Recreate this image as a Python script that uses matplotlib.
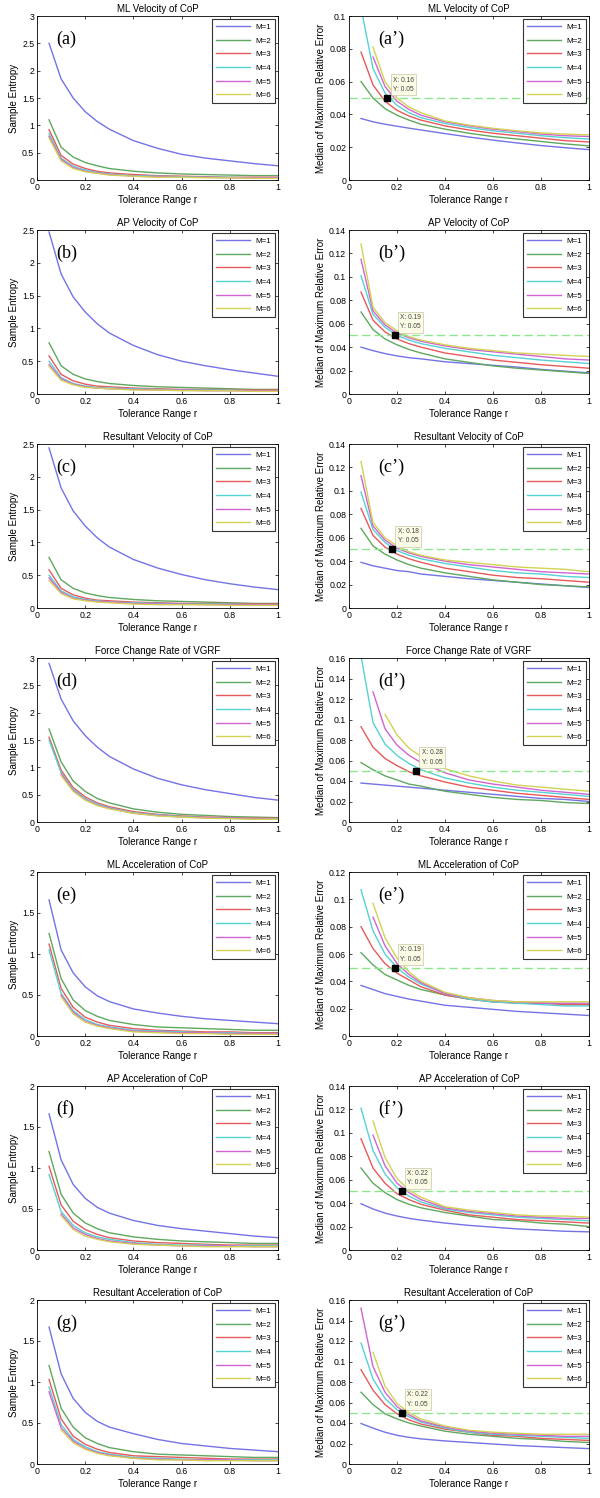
import numpy as np
import matplotlib
matplotlib.use('Agg')
import matplotlib.pyplot as plt
from matplotlib.ticker import FormatStrFormatter

plt.rcParams['font.family'] = ['Liberation Sans', 'DejaVu Sans']
plt.rcParams['xtick.direction'] = 'in'
plt.rcParams['ytick.direction'] = 'in'

nan = np.nan
r = [0.05, 0.1, 0.15, 0.2, 0.25, 0.3, 0.4, 0.5, 0.6, 0.7, 0.8, 0.9, 1.0]
labels = ['M=1', 'M=2', 'M=3', 'M=4', 'M=5', 'M=6']
titles = ['ML Velocity of CoP', 'AP Velocity of CoP', 'Resultant Velocity of CoP',
          'Force Change Rate of VGRF', 'ML Acceleration of CoP',
          'AP Acceleration of CoP', 'Resultant Acceleration of CoP']
letters = ['a', 'b', 'c', 'd', 'e', 'f', 'g']

# sample entropy, one row per M
se_ml_vel = [
    [2.50, 1.85, 1.50, 1.25, 1.07, 0.93, 0.72, 0.58, 0.47, 0.40, 0.35, 0.30, 0.26],
    [1.10, 0.60, 0.42, 0.32, 0.26, 0.21, 0.16, 0.13, 0.11, 0.10, 0.09, 0.08, 0.08],
    [0.92, 0.45, 0.29, 0.21, 0.16, 0.13, 0.10, 0.08, 0.07, 0.06, 0.05, 0.05, 0.05],
    [0.85, 0.40, 0.25, 0.18, 0.14, 0.11, 0.08, 0.07, 0.06, 0.05, 0.05, 0.04, 0.04],
    [0.80, 0.38, 0.23, 0.16, 0.13, 0.10, 0.07, 0.06, 0.05, 0.05, 0.04, 0.04, 0.04],
    [0.77, 0.35, 0.21, 0.15, 0.12, 0.09, 0.07, 0.05, 0.05, 0.04, 0.04, 0.03, 0.03]]
se_ap_vel = [
    [2.47, 1.83, 1.48, 1.25, 1.07, 0.93, 0.74, 0.60, 0.50, 0.43, 0.37, 0.32, 0.27],
    [0.78, 0.43, 0.30, 0.23, 0.19, 0.16, 0.13, 0.11, 0.10, 0.09, 0.08, 0.07, 0.07],
    [0.58, 0.30, 0.20, 0.15, 0.12, 0.11, 0.09, 0.08, 0.07, 0.07, 0.07, 0.06, 0.06],
    [0.50, 0.25, 0.16, 0.12, 0.10, 0.09, 0.08, 0.07, 0.06, 0.06, 0.06, 0.05, 0.05],
    [0.45, 0.23, 0.15, 0.11, 0.09, 0.08, 0.07, 0.06, 0.06, 0.05, 0.05, 0.05, 0.05],
    [0.42, 0.21, 0.14, 0.10, 0.09, 0.08, 0.06, 0.06, 0.05, 0.05, 0.05, 0.04, 0.04]]
se_res_vel = [
    [2.44, 1.83, 1.48, 1.25, 1.07, 0.93, 0.74, 0.61, 0.51, 0.43, 0.37, 0.32, 0.28],
    [0.77, 0.43, 0.30, 0.23, 0.19, 0.16, 0.13, 0.11, 0.10, 0.09, 0.08, 0.07, 0.07],
    [0.58, 0.30, 0.20, 0.15, 0.12, 0.11, 0.09, 0.08, 0.07, 0.07, 0.07, 0.06, 0.06],
    [0.50, 0.26, 0.17, 0.13, 0.11, 0.09, 0.08, 0.07, 0.06, 0.06, 0.06, 0.05, 0.05],
    [0.46, 0.24, 0.15, 0.12, 0.10, 0.09, 0.07, 0.06, 0.06, 0.05, 0.05, 0.05, 0.05],
    [0.42, 0.22, 0.14, 0.11, 0.09, 0.08, 0.06, 0.05, 0.05, 0.05, 0.04, 0.04, 0.04]]
se_force = [
    [2.90, 2.25, 1.85, 1.58, 1.37, 1.20, 0.97, 0.80, 0.68, 0.59, 0.52, 0.45, 0.40],
    [1.70, 1.10, 0.75, 0.56, 0.43, 0.35, 0.24, 0.18, 0.14, 0.12, 0.10, 0.09, 0.08],
    [1.55, 0.95, 0.63, 0.46, 0.35, 0.28, 0.19, 0.14, 0.11, 0.09, 0.08, 0.07, 0.07],
    [1.50, 0.90, 0.60, 0.43, 0.33, 0.26, 0.17, 0.13, 0.10, 0.08, 0.07, 0.06, 0.06],
    [nan, 0.88, 0.58, 0.41, 0.31, 0.25, 0.16, 0.12, 0.09, 0.08, 0.07, 0.06, 0.05],
    [nan, 0.85, 0.56, 0.40, 0.30, 0.24, 0.16, 0.11, 0.09, 0.07, 0.06, 0.05, 0.05]]
se_ml_acc = [
    [1.66, 1.05, 0.77, 0.60, 0.49, 0.42, 0.33, 0.28, 0.24, 0.21, 0.19, 0.17, 0.15],
    [1.25, 0.70, 0.44, 0.31, 0.24, 0.19, 0.14, 0.11, 0.10, 0.09, 0.08, 0.07, 0.07],
    [1.12, 0.58, 0.35, 0.23, 0.17, 0.13, 0.09, 0.07, 0.06, 0.05, 0.05, 0.04, 0.04],
    [1.05, 0.52, 0.31, 0.20, 0.14, 0.11, 0.07, 0.06, 0.05, 0.04, 0.04, 0.03, 0.03],
    [nan, 0.50, 0.29, 0.18, 0.13, 0.10, 0.06, 0.05, 0.04, 0.04, 0.03, 0.03, 0.03],
    [nan, 0.48, 0.27, 0.17, 0.12, 0.09, 0.05, 0.04, 0.03, 0.03, 0.02, 0.02, 0.02]]
se_ap_acc = [
    [1.66, 1.10, 0.80, 0.63, 0.52, 0.45, 0.36, 0.30, 0.26, 0.23, 0.20, 0.17, 0.15],
    [1.20, 0.68, 0.45, 0.33, 0.26, 0.21, 0.16, 0.13, 0.11, 0.10, 0.09, 0.08, 0.08],
    [1.02, 0.55, 0.35, 0.25, 0.19, 0.15, 0.11, 0.09, 0.08, 0.07, 0.06, 0.06, 0.06],
    [0.92, 0.47, 0.30, 0.21, 0.16, 0.13, 0.09, 0.07, 0.06, 0.06, 0.05, 0.05, 0.05],
    [nan, 0.44, 0.27, 0.19, 0.14, 0.11, 0.08, 0.06, 0.05, 0.05, 0.05, 0.04, 0.04],
    [nan, 0.42, 0.25, 0.17, 0.13, 0.10, 0.07, 0.06, 0.05, 0.04, 0.04, 0.04, 0.04]]
se_res_acc = [
    [1.67, 1.10, 0.80, 0.63, 0.52, 0.45, 0.37, 0.30, 0.25, 0.22, 0.19, 0.17, 0.15],
    [1.20, 0.68, 0.45, 0.32, 0.25, 0.20, 0.15, 0.12, 0.11, 0.10, 0.09, 0.08, 0.08],
    [1.03, 0.55, 0.34, 0.24, 0.18, 0.14, 0.10, 0.09, 0.08, 0.07, 0.06, 0.06, 0.06],
    [0.94, 0.48, 0.30, 0.21, 0.15, 0.12, 0.08, 0.07, 0.06, 0.05, 0.05, 0.05, 0.05],
    [0.88, 0.44, 0.28, 0.19, 0.14, 0.11, 0.07, 0.06, 0.05, 0.05, 0.05, 0.04, 0.04],
    [nan, 0.42, 0.26, 0.18, 0.13, 0.10, 0.07, 0.05, 0.05, 0.04, 0.04, 0.04, 0.04]]

# median of maximum relative error, one row per M
err_ml_vel = [
    [0.0375, 0.0355, 0.034, 0.0328, 0.0316, 0.0305, 0.0283, 0.0262, 0.0243, 0.0226, 0.021, 0.0197, 0.0185],
    [0.060, 0.050, 0.0435, 0.0395, 0.0365, 0.034, 0.031, 0.0285, 0.0265, 0.025, 0.0235, 0.022, 0.0208],
    [0.078, 0.058, 0.048, 0.0425, 0.039, 0.0365, 0.033, 0.0305, 0.0285, 0.027, 0.0255, 0.024, 0.0232],
    [0.105, 0.068, 0.053, 0.0455, 0.041, 0.038, 0.0345, 0.032, 0.030, 0.0285, 0.027, 0.0258, 0.025],
    [nan, 0.075, 0.057, 0.048, 0.043, 0.0395, 0.0355, 0.033, 0.031, 0.0295, 0.028, 0.027, 0.0265],
    [nan, 0.081, 0.060, 0.050, 0.0445, 0.041, 0.036, 0.0335, 0.0315, 0.030, 0.0287, 0.028, 0.0275]]
err_ap_vel = [
    [0.040, 0.037, 0.0345, 0.0325, 0.031, 0.030, 0.0275, 0.026, 0.0245, 0.023, 0.021, 0.0195, 0.018],
    [0.070, 0.055, 0.047, 0.042, 0.038, 0.035, 0.030, 0.027, 0.024, 0.022, 0.0205, 0.019, 0.0175],
    [0.087, 0.063, 0.053, 0.047, 0.043, 0.040, 0.035, 0.032, 0.029, 0.027, 0.025, 0.0235, 0.022],
    [0.101, 0.068, 0.057, 0.050, 0.046, 0.043, 0.039, 0.036, 0.033, 0.031, 0.029, 0.0275, 0.026],
    [0.115, 0.071, 0.059, 0.052, 0.048, 0.045, 0.041, 0.038, 0.036, 0.034, 0.032, 0.030, 0.029],
    [0.128, 0.074, 0.061, 0.054, 0.049, 0.046, 0.042, 0.039, 0.037, 0.035, 0.034, 0.033, 0.032]]
err_res_vel = [
    [0.039, 0.036, 0.034, 0.032, 0.031, 0.029, 0.027, 0.025, 0.0235, 0.022, 0.0205, 0.019, 0.0175],
    [0.068, 0.053, 0.046, 0.041, 0.037, 0.034, 0.030, 0.027, 0.024, 0.022, 0.020, 0.019, 0.018],
    [0.085, 0.062, 0.052, 0.046, 0.042, 0.039, 0.034, 0.031, 0.028, 0.026, 0.025, 0.0235, 0.022],
    [0.099, 0.067, 0.056, 0.049, 0.045, 0.042, 0.038, 0.035, 0.032, 0.030, 0.029, 0.027, 0.026],
    [0.113, 0.070, 0.058, 0.051, 0.047, 0.044, 0.040, 0.037, 0.035, 0.033, 0.031, 0.030, 0.029],
    [0.125, 0.073, 0.060, 0.053, 0.048, 0.045, 0.041, 0.039, 0.037, 0.035, 0.034, 0.033, 0.031]]
err_force = [
    [0.038, 0.037, 0.036, 0.035, 0.034, 0.033, 0.031, 0.029, 0.027, 0.025, 0.023, 0.022, 0.020],
    [0.058, 0.051, 0.045, 0.041, 0.037, 0.035, 0.030, 0.027, 0.024, 0.022, 0.021, 0.019, 0.018],
    [0.093, 0.073, 0.062, 0.055, 0.049, 0.045, 0.039, 0.034, 0.031, 0.028, 0.026, 0.024, 0.022],
    [0.162, 0.097, 0.076, 0.065, 0.057, 0.051, 0.043, 0.038, 0.034, 0.031, 0.029, 0.027, 0.025],
    [nan, 0.127, 0.091, 0.075, 0.065, 0.058, 0.048, 0.041, 0.037, 0.034, 0.031, 0.029, 0.027],
    [nan, nan, 0.105, 0.085, 0.072, 0.064, 0.052, 0.045, 0.040, 0.036, 0.034, 0.032, 0.030]]
err_ml_acc = [
    [0.037, 0.034, 0.031, 0.029, 0.027, 0.0255, 0.0225, 0.021, 0.0195, 0.018, 0.017, 0.016, 0.015],
    [0.061, 0.052, 0.045, 0.041, 0.037, 0.034, 0.030, 0.027, 0.025, 0.0245, 0.024, 0.0235, 0.023],
    [0.080, 0.064, 0.053, 0.046, 0.041, 0.036, 0.030, 0.027, 0.025, 0.024, 0.024, 0.023, 0.023],
    [0.107, 0.077, 0.060, 0.050, 0.043, 0.038, 0.031, 0.027, 0.025, 0.024, 0.023, 0.022, 0.022],
    [nan, 0.087, 0.066, 0.053, 0.045, 0.039, 0.031, 0.028, 0.026, 0.025, 0.024, 0.024, 0.024],
    [nan, 0.097, 0.072, 0.057, 0.047, 0.040, 0.032, 0.028, 0.026, 0.025, 0.025, 0.025, 0.025]]
err_ap_acc = [
    [0.0395, 0.035, 0.0315, 0.029, 0.027, 0.0255, 0.023, 0.021, 0.0195, 0.018, 0.017, 0.016, 0.0155],
    [0.070, 0.057, 0.049, 0.043, 0.039, 0.036, 0.032, 0.029, 0.026, 0.025, 0.023, 0.022, 0.020],
    [0.095, 0.070, 0.057, 0.048, 0.043, 0.039, 0.034, 0.030, 0.028, 0.026, 0.025, 0.024, 0.023],
    [0.121, 0.085, 0.065, 0.053, 0.046, 0.041, 0.035, 0.032, 0.030, 0.028, 0.027, 0.026, 0.025],
    [nan, 0.098, 0.072, 0.057, 0.049, 0.043, 0.036, 0.033, 0.031, 0.029, 0.028, 0.027, 0.027],
    [nan, 0.110, 0.079, 0.061, 0.051, 0.045, 0.037, 0.034, 0.032, 0.030, 0.029, 0.029, 0.028]]
err_res_acc = [
    [0.0395, 0.035, 0.031, 0.028, 0.026, 0.0245, 0.0225, 0.021, 0.0195, 0.018, 0.017, 0.016, 0.015],
    [0.070, 0.058, 0.049, 0.044, 0.040, 0.037, 0.032, 0.029, 0.027, 0.025, 0.024, 0.022, 0.021],
    [0.092, 0.072, 0.058, 0.049, 0.043, 0.039, 0.034, 0.031, 0.028, 0.027, 0.025, 0.024, 0.023],
    [0.118, 0.083, 0.064, 0.053, 0.046, 0.041, 0.035, 0.031, 0.029, 0.028, 0.027, 0.026, 0.025],
    [0.152, 0.095, 0.070, 0.056, 0.048, 0.042, 0.036, 0.032, 0.030, 0.029, 0.028, 0.027, 0.027],
    [nan, 0.109, 0.076, 0.059, 0.050, 0.044, 0.037, 0.033, 0.031, 0.030, 0.029, 0.029, 0.029]]

se_data = [se_ml_vel, se_ap_vel, se_res_vel, se_force, se_ml_acc, se_ap_acc, se_res_acc]
se_ymax = [3, 2.5, 2.5, 3, 2, 2, 2]
err_data = [err_ml_vel, err_ap_vel, err_res_vel, err_force, err_ml_acc, err_ap_acc, err_res_acc]
err_ymax = [0.1, 0.14, 0.14, 0.16, 0.12, 0.14, 0.16]
tip_x = [0.16, 0.19, 0.18, 0.28, 0.19, 0.22, 0.22]
threshold = 0.05

colors = ['#7373e6', '#5fa85f', '#e65a5a', '#55d2d2', '#d264d2', '#d2d255']


def style_axes(ax, ymax, ystep, ylabel):
    ax.set_xlim(0, 1)
    ax.set_ylim(0, ymax)
    ax.set_xticks(np.arange(0, 1.01, 0.2))
    ax.set_yticks(np.arange(0, ymax + ystep / 2, ystep))
    ax.xaxis.set_major_formatter(FormatStrFormatter('%g'))
    ax.yaxis.set_major_formatter(FormatStrFormatter('%g'))
    ax.tick_params(labelsize=6.3, length=2.5, width=0.5, top=True, right=True, pad=2)
    for s in ax.spines.values():
        s.set_linewidth(0.6)
    ax.set_xlabel('Tolerance Range r', fontsize=7, labelpad=2)
    ax.set_ylabel(ylabel, fontsize=7, labelpad=2)
    leg = ax.legend(loc='upper right', fontsize=5.8, handlelength=4.2, labelspacing=0.75,
                    borderpad=0.5, handletextpad=0.6, fancybox=False, framealpha=1,
                    borderaxespad=0.4)
    leg.get_frame().set_edgecolor('#333333')
    leg.get_frame().set_linewidth(0.8)


fig = plt.figure(figsize=(6, 14.98), dpi=100)
H = 14.98 * 100
for i in range(7):
    top = 16 + 214 * i
    bottom = 180 + 214 * i
    # left column: sample entropy
    ax = fig.add_axes([37 / 600, 1 - bottom / H, 241 / 600, (bottom - top) / H])
    for k in range(6):
        ax.plot(r, se_data[i][k], color=colors[k], lw=1.0, label=labels[k])
    ax.set_title(titles[i], fontsize=7, pad=3)
    style_axes(ax, se_ymax[i], 0.5, 'Sample Entropy')
    ax.text(0.08, 0.86, '(' + letters[i] + ')', transform=ax.transAxes,
            fontsize=13, family='Liberation Serif', va='center')

    # right column: median of maximum relative error
    ax = fig.add_axes([349 / 600, 1 - bottom / H, 240 / 600, (bottom - top) / H])
    for k in range(6):
        ax.plot(r, err_data[i][k], color=colors[k], lw=1.0, label=labels[k])
    ax.axhline(threshold, color='#8ee68e', lw=1.0, ls=(0, (6, 3)))
    ax.plot([tip_x[i]], [threshold], 's', color='black', ms=4, zorder=5)
    ax.annotate('X: %g\nY: %g' % (tip_x[i], threshold), (tip_x[i], threshold),
                xytext=(4, 5), textcoords='offset points', fontsize=4.8, color='#444444',
                linespacing=1.5,
                bbox=dict(boxstyle='square,pad=0.35', fc='#fbfbe6', ec='#c8c8a8', lw=0.5))
    ax.set_title(titles[i], fontsize=7, pad=3)
    style_axes(ax, err_ymax[i], 0.02, 'Median of Maximum Relative Error')
    ax.text(0.12, 0.86, '(' + letters[i] + '\u2019)', transform=ax.transAxes,
            fontsize=13, family='Liberation Serif', va='center')

fig.savefig('out.png', dpi=100)
